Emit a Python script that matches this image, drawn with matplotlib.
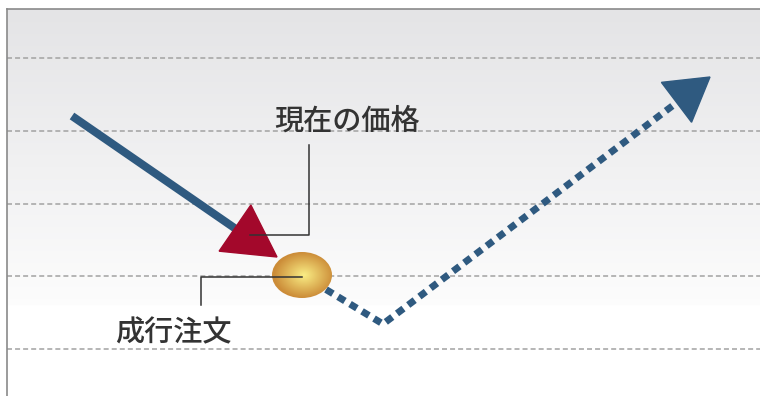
import matplotlib.pyplot as plt
import numpy as np
from matplotlib.patches import Ellipse, Polygon

plt.rcParams['font.family'] = ['Noto Sans CJK JP', 'DejaVu Sans']
plt.rcParams['lines.scale_dashes'] = False

# Price grid levels (pixel-like units, y grows downward)
grid_y = [58, 131, 204, 276, 349]

# Incoming trend (solid): start -> arrow tip
trend_in_x = [72, 277]
trend_in_y = [116, 257]

# Market order fill point
order_x, order_y = 302, 275
order_w, order_h = 60, 46

# Outgoing path (dotted): order -> dip -> arrow tip
trend_out_x = [302, 383, 710]
trend_out_y = [275, 324, 77]

# Labels
labels = ['現在の価格', '成行注文']
label_x = [347, 173]
label_y = [121, 333]

# Leader lines
lead1_x = [309, 309, 250]
lead1_y = [145, 235, 235]
lead2_x = [302, 201, 201]
lead2_y = [277, 277, 305]

BLUE = '#2f5a80'
RED = '#a3082b'
TXT = '#333333'


def head(xs, ys, length, width):
    tip = np.array([xs[-1], ys[-1]], float)
    prev = np.array([xs[-2], ys[-2]], float)
    u = (tip - prev) / np.hypot(*(tip - prev))
    n = np.array([-u[1], u[0]])
    base = tip - u * length
    return [tip, base + n * width / 2, base - n * width / 2], base


fig = plt.figure(figsize=(7.6, 3.96), dpi=100)
ax = fig.add_axes([7 / 760, 0, 753 / 760, 387 / 396])
ax.set_xlim(7, 760)
ax.set_ylim(396, 9)
ax.set_xticks([])
ax.set_yticks([])
for s in ['right', 'bottom']:
    ax.spines[s].set_visible(False)
for s in ['left', 'top']:
    ax.spines[s].set_color('#8a8a8a')
    ax.spines[s].set_linewidth(1.2)

# background gradient: grey at top fading to white
rows = np.linspace(9, 396, 400)
t = np.clip((rows - 9) / (305 - 9), 0, 1)
top = np.array([0.894, 0.894, 0.902])
bot = np.array([0.99, 0.99, 0.99])
grad = top[None, :] * (1 - t[:, None]) + bot[None, :] * t[:, None]
grad[rows > 305] = 1.0
ax.imshow(grad[:, None, :], extent=[7, 760, 396, 9], aspect='auto', zorder=0)

# grid
for gy in grid_y:
    ax.plot([7, 760], [gy, gy], color='#a2a2a2', lw=1.1,
            dashes=(3.6, 2.2), zorder=1)

# incoming solid trend with red head
tri, base = head(trend_in_x, trend_in_y, 51, 56)
ax.plot([trend_in_x[0], base[0] + 4], [trend_in_y[0], base[1] + 3],
        color=BLUE, lw=5.8, solid_capstyle='butt', zorder=3)
ax.add_patch(Polygon(tri, closed=True, color=RED, zorder=4))

# outgoing dotted path with blue head
tri2, base2 = head(trend_out_x, trend_out_y, 42, 50)
ox = trend_out_x[:-1] + [base2[0] - 2]
oy = trend_out_y[:-1] + [base2[1] + 2]
ax.plot(ox, oy, color=BLUE, lw=5.0, dashes=(5.8, 4.3),
        dash_capstyle='butt', solid_joinstyle='miter', zorder=3)
ax.add_patch(Polygon(tri2, closed=True, color=BLUE, zorder=4))

# order point: radial gold gradient ellipse
ell = Ellipse((order_x, order_y), order_w, order_h, facecolor='none',
              edgecolor='none', zorder=5)
ax.add_patch(ell)
gx = np.linspace(order_x - order_w / 2, order_x + order_w / 2, 120)
gy_ = np.linspace(order_y - order_h / 2, order_y + order_h / 2, 90)
X, Y = np.meshgrid(gx, gy_)
r = np.clip(np.hypot((X - order_x - 2) / (order_w / 2), (Y - order_y) / (order_h / 2)), 0, 1)
c0 = np.array([0.98, 0.93, 0.52])
c1 = np.array([0.80, 0.55, 0.22])
w = r[..., None] ** 1.0
img = c0 * (1 - w) + c1 * w
im = ax.imshow(img, extent=[gx[0], gx[-1], gy_[-1], gy_[0]], aspect='auto',
               zorder=5, interpolation='bilinear')
im.set_clip_path(ell)

# leader lines
ax.plot(lead1_x, lead1_y, color=TXT, lw=1.1, zorder=6)
ax.plot(lead2_x, lead2_y, color=TXT, lw=1.1, zorder=6)

for s, x, y in zip(labels, label_x, label_y):
    ax.text(x, y, s, fontsize=21, color=TXT, ha='center', va='center',
            fontweight='medium', zorder=7)

fig.savefig('out.png', dpi=100)
